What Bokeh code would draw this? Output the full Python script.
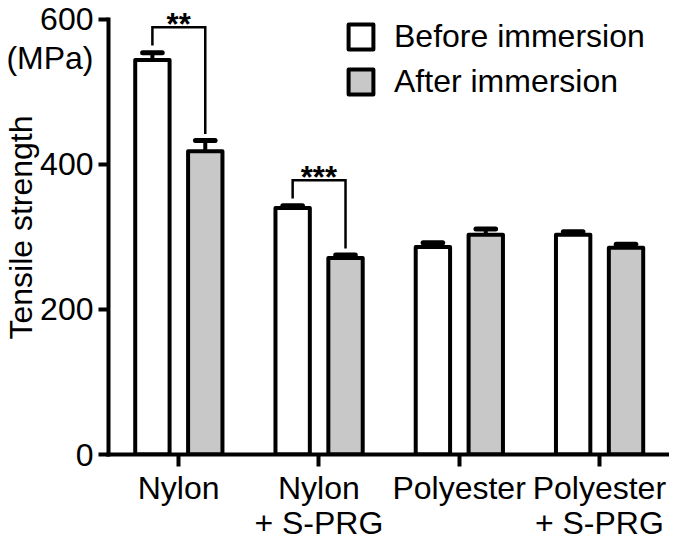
from bokeh.plotting import figure
from bokeh.models import Range1d, FixedTicker, Legend, LegendItem, LinearAxis
from bokeh.embed import file_html
from bokeh.resources import INLINE
from bokeh.core.properties import value

# ---- data ----
categories = ["Nylon", "Nylon", "Polyester", "Polyester"]
category_suffix = ["", "+ S-PRG", "", "+ S-PRG"]
before_mean = [544, 340, 286, 303]
before_err = [10, 3, 6, 4]
after_mean = [418, 271, 303, 285]
after_err = [15, 4, 8, 5]
significance = ["**", "***", "", ""]
series_names = ["Before immersion", "After immersion"]
y_ticks = [0, 200, 400, 600]
unit_label = "(MPa)"

FONT = "Liberation Sans"
GRAY = "#c8c8c8"
BAR_W = 0.245
OFF_B = -0.187
OFF_A = 0.19
UNIT_POS = 547
Y_TOP = 626   # headroom above the 600 tick for the significance marks

centers = [i + 0.5 for i in range(len(categories))]
xb = [c + OFF_B for c in centers]
xa = [c + OFF_A for c in centers]

p = figure(width=669, height=543, x_range=Range1d(0, 4), y_range=Range1d(0, Y_TOP),
           output_backend="svg", toolbar_location=None,
           min_border_left=104, min_border_right=0, min_border_top=0, min_border_bottom=60)
p.outline_line_color = None
p.grid.visible = False
p.background_fill_color = "white"
p.border_fill_color = "white"

rb = p.vbar(x=xb, top=before_mean, bottom=0, width=BAR_W, fill_color="white",
            line_color="black", line_width=4, line_join="round")
ra = p.vbar(x=xa, top=after_mean, bottom=0, width=BAR_W, fill_color=GRAY,
            line_color="black", line_width=4, line_join="round")

# error bars (upper only)
for xs, m, e in ((xb, before_mean, before_err), (xa, after_mean, after_err)):
    tops = [mi + ei for mi, ei in zip(m, e)]
    p.segment(x0=xs, y0=m, x1=xs, y1=tops, line_color="black", line_width=4)
    p.segment(x0=[x - 0.07 for x in xs], y0=tops, x1=[x + 0.07 for x in xs], y1=tops,
              line_color="black", line_width=5, line_cap="round")

# significance brackets
bx, by, sx, sy, st = [], [], [], [], []
for i, s in enumerate(significance):
    if not s:
        continue
    tb = before_mean[i] + before_err[i]
    ta = after_mean[i] + after_err[i]
    top = max(tb, ta) + 35
    bx.append([xb[i], xb[i], xa[i], xa[i]])
    by.append([tb + 10, top, top, ta + 9])
    sx.append(centers[i])
    sy.append(top)
    st.append(s)
p.multi_line(xs=bx, ys=by, line_color="black", line_width=2.5, line_join="miter")
p.text(x=sx, y=sy, text=st, text_align="center", text_baseline="alphabetic", y_offset=-3,
       text_font=value(FONT), text_font_size="31px", text_font_style="bold",
       text_color="black")

# x axis: first line of category labels
xax = p.xaxis[0]
xax.ticker = FixedTicker(ticks=centers)
xax.major_label_overrides = {c: lab for c, lab in zip(centers, categories)}
xax.major_tick_out = 12
xax.major_label_standoff = 3

# second line of category labels
xax2 = LinearAxis(ticker=FixedTicker(ticks=centers),
                  major_label_overrides={c: lab for c, lab in zip(centers, category_suffix)},
                  axis_line_color=None, major_tick_line_color=None, minor_tick_line_color=None,
                  major_tick_out=0, major_tick_in=0, major_label_standoff=-4,
                  major_label_text_font=FONT, major_label_text_font_size="32px",
                  major_label_text_line_height=1.0, major_label_text_color="black")
p.add_layout(xax2, "below")

# y axis: major ticks carry labels (incl. the unit), minor ticks draw the marks
yax = p.yaxis[0]
yax.bounds = (0, 600)
yax.ticker = FixedTicker(ticks=y_ticks + [UNIT_POS], minor_ticks=y_ticks)
yax.major_label_overrides = {UNIT_POS: unit_label}
yax.major_tick_line_color = None
yax.major_tick_out = 10
yax.minor_tick_line_color = "black"
yax.minor_tick_line_width = 4
yax.minor_tick_out = 10
yax.minor_tick_in = 0
yax.major_label_standoff = 5

for ax in (xax, yax):
    ax.axis_line_width = 4
    ax.axis_line_color = "black"
    ax.axis_line_cap = "square"
    ax.major_tick_in = 0
    ax.major_label_text_font = FONT
    ax.major_label_text_font_size = "32px"
    ax.major_label_text_line_height = 1.0
    ax.major_label_text_color = "black"
xax.major_tick_line_width = 4
xax.major_tick_line_color = "black"
xax.minor_tick_line_color = None

yax.axis_label = "Tensile strength"
yax.axis_label_text_font = FONT
yax.axis_label_text_font_size = "32px"
yax.axis_label_text_font_style = "normal"
yax.axis_label_text_line_height = 1.0
yax.axis_label_text_color = "black"
yax.axis_label_standoff = -36

legend = Legend(items=[LegendItem(label=series_names[0], renderers=[rb]),
                       LegendItem(label=series_names[1], renderers=[ra])],
                location="top_right", margin=18, padding=0, spacing=8,
                glyph_width=31, glyph_height=31, label_standoff=18, label_width=257,
                label_text_font=FONT, label_text_font_size="32px", label_text_color="black",
                border_line_color=None, background_fill_alpha=0)
p.add_layout(legend)

open("out.html", "w").write(file_html(p, INLINE))
